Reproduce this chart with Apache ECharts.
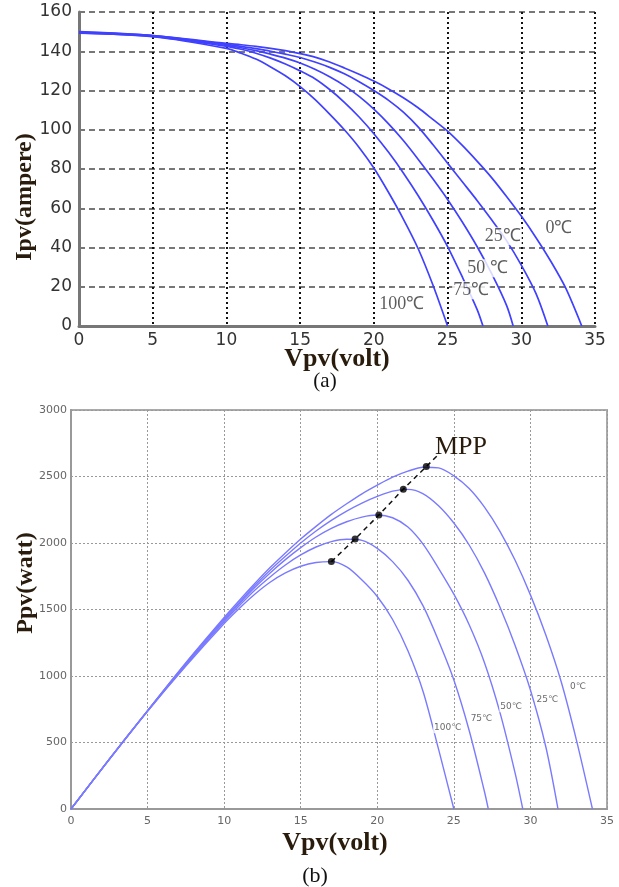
<!DOCTYPE html>
<html><head><meta charset="utf-8">
<script src="https://cdn.jsdelivr.net/npm/echarts/dist/echarts.min.js"></script>
<style>html,body{margin:0;padding:0;background:#fff}#c{width:619px;height:887px}</style>
</head><body><div id="c"></div>
<script>
// ---------- DATA ----------
const tempNames = ['0℃', '25℃', '50℃', '75℃', '100℃'];
const xTicks = [0, 5, 10, 15, 20, 25, 30, 35];
const ivTicksY = [0, 20, 40, 60, 80, 100, 120, 140, 160];
const pvTicksY = [0, 500, 1000, 1500, 2000, 2500, 3000];

// (a) I-V curves: [Vpv, Ipv]
const iv0 = [[0,150],[5,148],[10,144],[11,143.3],[12,142.5],[13,141.5],[14,140.3],[15,138.8],[16,137],[17,134.5],[18,131.5],[19,128.3],[20,124.8],[21,120.8],[22,116.3],[23,111.2],[24,105.3],[25,99.3],[26,92],[27,84],[28,75.5],[29,66],[30,56],[31,45],[32,33],[33,19.5],[34.1,0]];
const iv25 = [[0,149.8],[5,148],[10,143.5],[11,142.5],[12,141.3],[13,140],[14,138.5],[15,136.8],[16,134.5],[17,131.8],[18,128.5],[19,124.5],[20,120],[21,115],[22,109],[23,101.5],[24,92.5],[25,83],[26,73.5],[27,64],[28,54],[29,43.5],[30,31],[31,16.5],[31.8,0]];
const iv50 = [[0,149.6],[5,147.8],[10,143],[11,141.8],[12,140.3],[13,138.5],[14,136.5],[15,134],[16,130.8],[17,127],[18,122.5],[19,117],[20,110.5],[21,103],[22,94.5],[23,85],[24,75],[25,64.5],[26,53],[27,40.5],[28,26.5],[29,10.5],[29.45,0]];
const iv75 = [[0,149.4],[5,147.6],[10,142.5],[11,141],[12,139],[13,136.5],[14,133.5],[15,130],[16,126],[17,120.5],[18,114],[19,106.5],[20,98],[21,88.5],[22,78],[23,66.5],[24,54],[25,40.5],[26,25],[27,8.5],[27.4,0]];
const iv100 = [[0,149.2],[5,147.4],[10,141.5],[11,139],[12,136],[13,132],[14,127.5],[15,122],[16,115.5],[17,108],[18,100],[19,91],[20,80.5],[21,68],[22,54.5],[23,39.5],[24,21],[25,0]];

// (b) P-V curves: [Vpv, Ppv]
const pv0 = [[0,0],[2.5,375],[5,740],[7.5,1100],[10,1440],[11,1570],[12,1695],[13,1815],[14,1925],[15,2030],[16,2125],[17,2215],[18,2295],[19,2370],[20,2435],[21,2495],[22,2540],[23,2570],[24,2565],[25,2505],[26,2410],[27,2270],[28,2090],[29,1870],[30,1610],[31,1310],[32,960],[33,520],[34.05,0]];
const pv25 = [[0,0],[2.5,375],[5,740],[7.5,1095],[10,1430],[11,1555],[12,1680],[13,1795],[14,1900],[15,2000],[16,2090],[17,2170],[18,2240],[19,2300],[20,2350],[21,2390],[22,2403],[23,2370],[24,2280],[25,2150],[26,1985],[27,1775],[28,1520],[29,1230],[30,895],[31,470],[31.8,0]];
const pv50 = [[0,0],[2.5,374],[5,738],[7.5,1090],[10,1420],[11,1545],[12,1665],[13,1775],[14,1875],[15,1965],[16,2045],[17,2110],[18,2160],[19,2195],[20,2210],[21,2190],[22,2120],[23,1990],[24,1810],[25,1615],[26,1385],[27,1100],[28,730],[29,270],[29.5,0]];
const pv75 = [[0,0],[2.5,373],[5,736],[7.5,1083],[10,1410],[11,1530],[12,1645],[13,1745],[14,1835],[15,1910],[16,1970],[17,2010],[18,2028],[19,2020],[20,1960],[21,1860],[22,1720],[23,1525],[24,1265],[25,970],[26,590],[27,130],[27.25,0]];
const pv100 = [[0,0],[2.5,372],[5,735],[7.5,1075],[10,1395],[11,1510],[12,1615],[13,1705],[14,1775],[15,1825],[16,1853],[17,1860],[18,1820],[19,1722],[20,1598],[21,1425],[22,1190],[23,880],[24,450],[25,0]];

// maximum power points
const mppV = [17.0, 18.55, 20.1, 21.7, 23.2];
const mppP = [1860, 2030, 2210, 2405, 2575];
const mppTail = [24.0, 2665];

// curve label anchors (data coordinates)
const ivLabelAnchors = [[32.55,49.8,'0℃'],[28.75,45.7,'25℃'],[27.7,29.4,'50 ℃'],[26.6,18.2,'75℃'],[21.9,11.1,'100℃']];
const pvLabelAnchors = [[33.1,919,'0℃'],[31.1,822,'25℃'],[28.74,769,'50℃'],[26.8,679,'75℃'],[24.6,611,'100℃']];

// ---------- CHART ----------
const ivCurves = [iv0, iv25, iv50, iv75, iv100];
const pvCurves = [pv0, pv25, pv50, pv75, pv100];
const chart = echarts.init(document.getElementById('c'), null, {renderer: 'canvas'});
const titleColor = '#2a1c0c';
const serif = '"Liberation Serif", "Times New Roman", serif';
const plain = v => String(v);

const series = [];
ivCurves.forEach((d, k) => series.push({
  name: 'I ' + tempNames[k], type: 'line', xAxisIndex: 0, yAxisIndex: 0, data: d,
  showSymbol: false, smooth: 0.3,
  lineStyle: {color: '#4040ff', width: 1.7}, z: 3
}));
pvCurves.forEach((d, k) => series.push({
  name: 'P ' + tempNames[k], type: 'line', xAxisIndex: 1, yAxisIndex: 1, data: d,
  showSymbol: false, smooth: 0.3,
  lineStyle: {color: '#7a7aff', width: 1.4}, z: 3
}));
const mppPts = mppV.map((v, i) => [v, mppP[i]]);
series.push({
  type: 'line', xAxisIndex: 1, yAxisIndex: 1, data: mppPts.concat([mppTail]),
  showSymbol: false, lineStyle: {color: '#111', width: 1.5, type: [5, 4]}, z: 4
});
series.push({
  type: 'scatter', xAxisIndex: 1, yAxisIndex: 1, data: mppPts,
  symbol: 'circle', symbolSize: 7, itemStyle: {color: '#000'}, z: 5
});
series.push({
  type: 'scatter', xAxisIndex: 0, yAxisIndex: 0, data: ivLabelAnchors,
  symbolSize: 1, itemStyle: {color: 'rgba(0,0,0,0)'}, z: 6,
  label: {show: true, position: 'inside', formatter: p => p.data[2],
    fontFamily: serif, fontSize: 18, color: '#333', backgroundColor: '#fff', padding: [0, 1]}
});
series.push({
  type: 'scatter', xAxisIndex: 1, yAxisIndex: 1, data: pvLabelAnchors,
  symbolSize: 1, itemStyle: {color: 'rgba(0,0,0,0)'}, z: 6,
  label: {show: true, position: 'inside', formatter: p => p.data[2],
    fontFamily: '"DejaVu Sans", sans-serif', fontSize: 9, color: '#444', backgroundColor: '#fff', padding: [1, 1]}
});

const option = {
  backgroundColor: '#fff',
  animation: false,
  grid: [
    {left: 79, top: 12, width: 516, height: 314, outerBoundsMode: 'none'},
    {left: 71, top: 410, width: 536, height: 399, outerBoundsMode: 'none', show: true, borderColor: '#aaa', borderWidth: 2}
  ],
  xAxis: [
    {type: 'value', gridIndex: 0, min: xTicks[0], max: xTicks[xTicks.length - 1], interval: 5,
      axisLine: {show: true, onZero: false, lineStyle: {color: '#777', width: 3}},
      axisTick: {show: false},
      axisLabel: {fontFamily: '"DejaVu Sans", sans-serif', fontSize: 17, color: '#333', margin: 6, formatter: plain},
      splitLine: {show: true, lineStyle: {color: '#111', width: 2, type: [2, 3]}}},
    {type: 'value', gridIndex: 1, min: xTicks[0], max: xTicks[xTicks.length - 1], interval: 5,
      axisLine: {show: true, onZero: false, lineStyle: {color: '#999', width: 2}},
      axisTick: {show: false},
      axisLabel: {fontFamily: '"DejaVu Sans", sans-serif', fontSize: 11, color: '#666', margin: 7, formatter: plain},
      splitLine: {show: true, lineStyle: {color: '#999', width: 1, type: [2, 2]}}}
  ],
  yAxis: [
    {type: 'value', gridIndex: 0, min: ivTicksY[0], max: ivTicksY[ivTicksY.length - 1], interval: 20,
      axisLine: {show: true, onZero: false, lineStyle: {color: '#777', width: 3}},
      axisTick: {show: false},
      axisLabel: {fontFamily: '"DejaVu Sans", sans-serif', fontSize: 17, color: '#333', margin: 7, formatter: plain},
      splitLine: {show: true, lineStyle: {color: '#777', width: 2, type: [6, 4]}}},
    {type: 'value', gridIndex: 1, min: pvTicksY[0], max: pvTicksY[pvTicksY.length - 1], interval: 500,
      axisLine: {show: true, onZero: false, lineStyle: {color: '#999', width: 2}},
      axisTick: {show: false},
      axisLabel: {fontFamily: '"DejaVu Sans", sans-serif', fontSize: 11, color: '#666', margin: 4, formatter: plain},
      splitLine: {show: true, lineStyle: {color: '#999', width: 1, type: [2, 2]}}}
  ],
  graphic: [
    {type: 'text', x: 25, y: 197, rotation: Math.PI / 2,
      style: {text: 'Ipv(ampere)', font: 'bold 24px ' + serif, fill: titleColor, align: 'center', verticalAlign: 'middle'}},
    {type: 'text', x: 337, y: 359,
      style: {text: 'Vpv(volt)', font: 'bold 26px ' + serif, fill: titleColor, align: 'center', verticalAlign: 'middle'}},
    {type: 'text', x: 325, y: 381,
      style: {text: '(a)', font: '21px ' + serif, fill: '#111', align: 'center', verticalAlign: 'middle'}},
    {type: 'text', x: 26, y: 583, rotation: Math.PI / 2,
      style: {text: 'Ppv(watt)', font: 'bold 24px ' + serif, fill: titleColor, align: 'center', verticalAlign: 'middle'}},
    {type: 'text', x: 335, y: 843,
      style: {text: 'Vpv(volt)', font: 'bold 26px ' + serif, fill: titleColor, align: 'center', verticalAlign: 'middle'}},
    {type: 'text', x: 315, y: 876,
      style: {text: '(b)', font: '22px ' + serif, fill: '#111', align: 'center', verticalAlign: 'middle'}},
    {type: 'text', x: 461, y: 447, z: 10,
      style: {text: 'MPP', font: '26px ' + serif, fill: titleColor, align: 'center', verticalAlign: 'middle'}}
  ],
  series: series
};
chart.setOption(option);
</script>
</body></html>
